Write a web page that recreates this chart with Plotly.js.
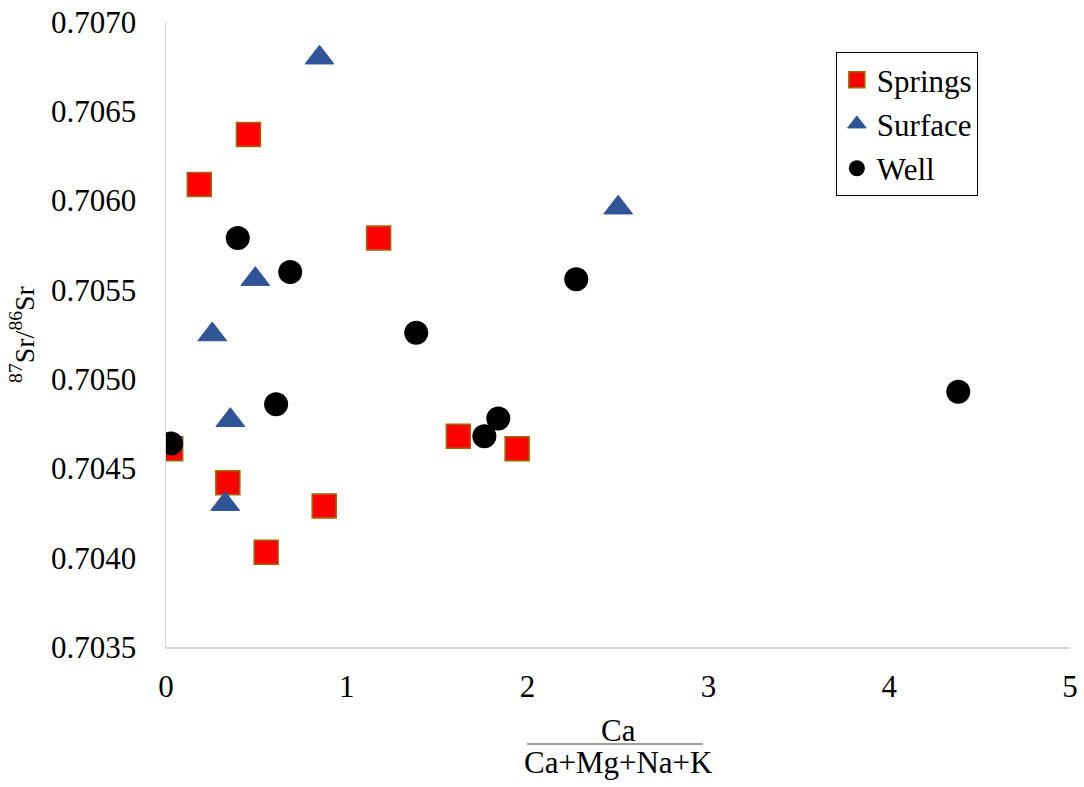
<!DOCTYPE html>
<html>
<head>
<meta charset="utf-8">
<script src="https://cdn.plot.ly/plotly-3.0.1.min.js"></script>
<style>
html,body{margin:0;padding:0;background:#fff;}
#chart{width:1084px;height:787px;}
</style>
</head>
<body>
<div id="chart"></div>
<script>
// Data
const seriesNames = ["Springs", "Surface", "Well"];

const springsX = [0.456, 0.184, 1.176, 0.026, 0.342, 0.875, 0.554, 1.617, 1.942];
const springsY = [0.70637, 0.70609, 0.70579, 0.70461, 0.70442, 0.70429, 0.70403, 0.70468, 0.70461];

const surfaceX = [0.849, 2.501, 0.494, 0.256, 0.356, 0.327];
const surfaceY = [0.70680, 0.70596, 0.70556, 0.70525, 0.70477, 0.70430];

const wellX = [0.397, 0.687, 1.384, 2.269, 0.609, 0.028, 1.761, 1.838, 4.382];
const wellY = [0.70579, 0.70560, 0.70526, 0.70556, 0.70486, 0.70464, 0.70468, 0.70478, 0.70493];

const xTitleTop = "Ca";
const xTitleBottom = "Ca+Mg+Na+K";
const yTitle = "<sup>87</sup>Sr/<sup>86</sup>Sr";

const FONT = "Liberation Serif";

const traces = [
  {
    type: "scatter", mode: "markers", name: seriesNames[0],
    x: springsX, y: springsY, legendgroup: "a",
    marker: { symbol: "square", size: 24, color: "#FF0000", line: { color: "#9C6B00", width: 1.5 } }
  },
  {
    type: "scatter", mode: "markers", name: seriesNames[1],
    x: surfaceX, y: surfaceY, legendgroup: "b",
    marker: { symbol: "triangle-up", size: 25, color: "#2F5597", line: { color: "#2F5597", width: 1 } }
  },
  {
    type: "scatter", mode: "markers", name: seriesNames[2],
    x: wellX, y: wellY, legendgroup: "c",
    marker: { symbol: "circle", size: 24, color: "#000000", line: { width: 0 } }
  }
];

const layout = {
  width: 1084, height: 787,
  paper_bgcolor: "#ffffff", plot_bgcolor: "#ffffff",
  margin: { l: 166, r: 14, t: 22, b: 140 },
  font: { family: FONT, color: "#000000", size: 31 },
  showlegend: true,
  legend: {
    x: 0.741, y: 0.952, xanchor: "left", yanchor: "top",
    bgcolor: "#ffffff", bordercolor: "#000000", borderwidth: 1,
    font: { family: FONT, size: 31, color: "#000000" },
    tracegroupgap: 1, itemsizing: "trace"
  },
  xaxis: {
    range: [0, 5], dtick: 1, tick0: 0,
    showgrid: false, zeroline: false,
    showline: true, linecolor: "#D9D9D9", linewidth: 1.5,
    ticks: "outside", ticklen: 11, tickcolor: "rgba(0,0,0,0)",
    tickfont: { family: FONT, size: 31, color: "#000000" },
    mirror: false
  },
  yaxis: {
    range: [0.7035, 0.7070], dtick: 0.0005, tick0: 0.7035, tickformat: ".4f",
    showgrid: false, zeroline: false,
    showline: true, linecolor: "#D9D9D9", linewidth: 1.5,
    ticks: "outside", ticklen: 22, tickcolor: "rgba(0,0,0,0)",
    tickfont: { family: FONT, size: 31, color: "#000000" },
    title: { text: yTitle, font: { family: FONT, size: 28, color: "#000000" }, standoff: 8 }
  },
  annotations: [
    { xref: "paper", yref: "paper", x: 0.5, y: -0.1328, xanchor: "center", yanchor: "middle",
      text: xTitleTop, showarrow: false, font: { family: FONT, size: 31, color: "#000000" } },
    { xref: "paper", yref: "paper", x: 0.5, y: -0.184, xanchor: "center", yanchor: "middle",
      text: xTitleBottom, showarrow: false, font: { family: FONT, size: 31, color: "#000000" } }
  ],
  shapes: [
    { type: "line", xref: "paper", yref: "paper", x0: 0.3993, x1: 0.594, y0: -0.1552, y1: -0.1552,
      line: { color: "#808080", width: 1.5 } }
  ]
};

Plotly.newPlot("chart", traces, layout, { displayModeBar: false, staticPlot: true });
</script>
</body>
</html>
